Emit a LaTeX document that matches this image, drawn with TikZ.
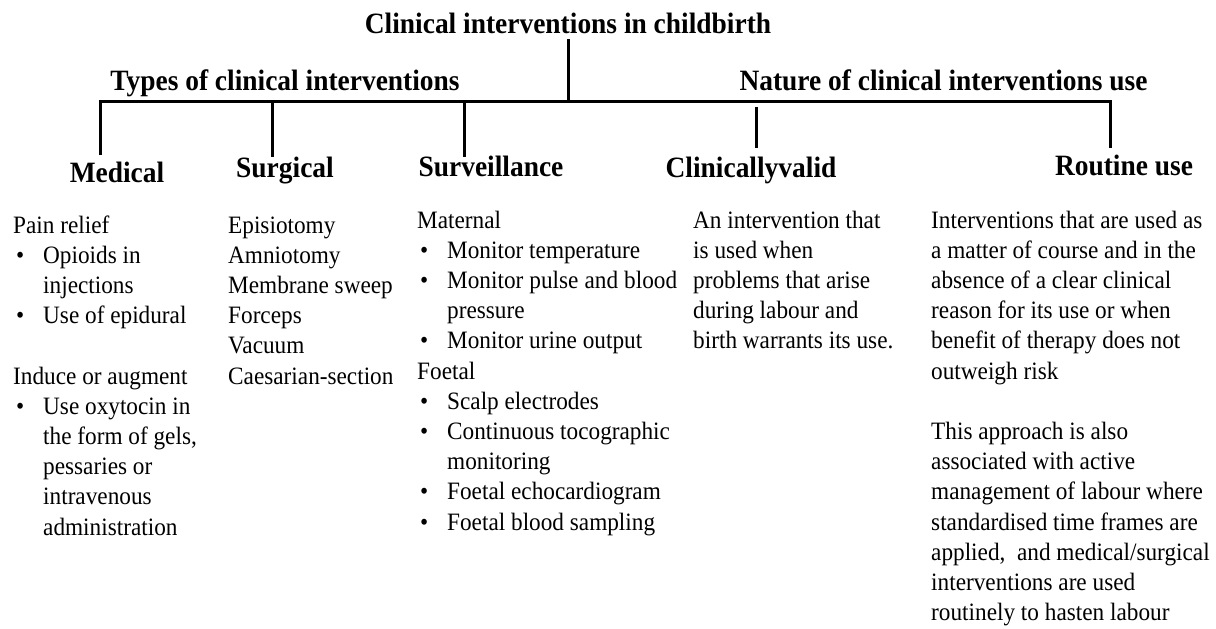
\documentclass[tikz,border=0pt]{standalone}
\usepackage{fontspec}
\setmainfont{Liberation Serif}
\newfontfamily\txtfont[FakeStretch=0.93]{Liberation Serif}

% body text column: first baseline at the node's base
\newcommand{\colbox}[2]{\parbox[t]{#1}{\txtfont\fontsize{25}{30.2}\selectfont\raggedright #2}}
\newcommand{\bul}{\hspace*{3pt}\makebox[27pt][l]{\textbullet}}
\newcommand{\ind}{\hspace*{30pt}}

\tikzset{
  heading/.style={font=\txtfont\bfseries\fontsize{29.5}{34}\selectfont, inner sep=0pt, anchor=base},
  colbody/.style={inner sep=0pt, anchor=base west},
  link/.style={line width=3pt, line cap=butt, line join=miter}
}

\begin{document}
\begin{tikzpicture}[x=1pt, y=-1pt]
\useasboundingbox (0,0) rectangle (1216,629);

% headings
\node[heading, inner ysep=6pt] (title) at (568,33) {Clinical interventions in childbirth};
\node[heading] (types)  at (285,90)    {Types of clinical interventions};
\node[heading] (nature) at (943.5,90)  {Nature of clinical interventions use};

\node[heading] (med)  at (117,182)  {Medical};
\node[heading] (surg) at (285,177)  {Surgical};
\node[heading] (surv) at (491,176)  {Surveillance};
\node[heading] (cval) at (751,177)  {Clinicallyvalid};
\node[heading] (rout) at (1124,175) {Routine use};

% tree connectors
\coordinate (busL) at (100,101.5);
\coordinate (busR) at (1110,101.5);
\coordinate (dMed)  at (100,155);
\coordinate (dRout) at (1110,148);
\coordinate (tSurg) at (272,101.5);  \coordinate (bSurg) at (272,157);
\coordinate (tSurv) at (464,103);    \coordinate (bSurv) at (464,157);
\coordinate (tCval) at (756,107);    \coordinate (bCval) at (756,148);

\draw[link] (title.south) -- (title.south |- busL);
\draw[link] (dMed) -- (busL) -- (busR) -- (dRout);
\draw[link] (tSurg) -- (bSurg);
\draw[link] (tSurv) -- (bSurv);
\draw[link] (tCval) -- (bCval);

% column texts
\node[colbody] (medtxt) at (13,233) {\colbox{210pt}{%
Pain relief\\
\bul Opioids in\\
\ind injections\\
\bul Use of epidural\\[30.2pt]
Induce or augment\\
\bul Use oxytocin in\\
\ind the form of gels,\\
\ind pessaries or\\
\ind intravenous\\
\ind administration}};

\node[colbody] (surgtxt) at (228,233) {\colbox{190pt}{%
Episiotomy\\
Amniotomy\\
Membrane sweep\\
Forceps\\
Vacuum\\
Caesarian-section}};

\node[colbody] (survtxt) at (417,228) {\colbox{275pt}{%
Maternal\\
\bul Monitor temperature\\
\bul \makebox[230pt][s]{Monitor pulse and blood}\\
\ind pressure\\
\bul Monitor urine output\\
Foetal\\
\bul Scalp electrodes\\
\bul Continuous tocographic\\
\ind monitoring\\
\bul Foetal echocardiogram\\
\bul Foetal blood sampling}};

\node[colbody] (cvaltxt) at (693,228) {\colbox{230pt}{%
An intervention that\\
is used when\\
problems that arise\\
during labour and\\
birth warrants its use.}};

\node[colbody] (routtxt) at (931,228) {\colbox{285pt}{%
Interventions that are used as\\
a matter of course and in the\\
absence of a clear clinical\\
reason for its use or when\\
benefit of therapy does not\\
outweigh risk\\[30.2pt]
This approach is also\\
associated with active\\
management of labour where\\
standardised time frames are\\
applied,\ \ and medical/surgical\\
interventions are used\\
routinely to hasten labour}};
\end{tikzpicture}
\end{document}
